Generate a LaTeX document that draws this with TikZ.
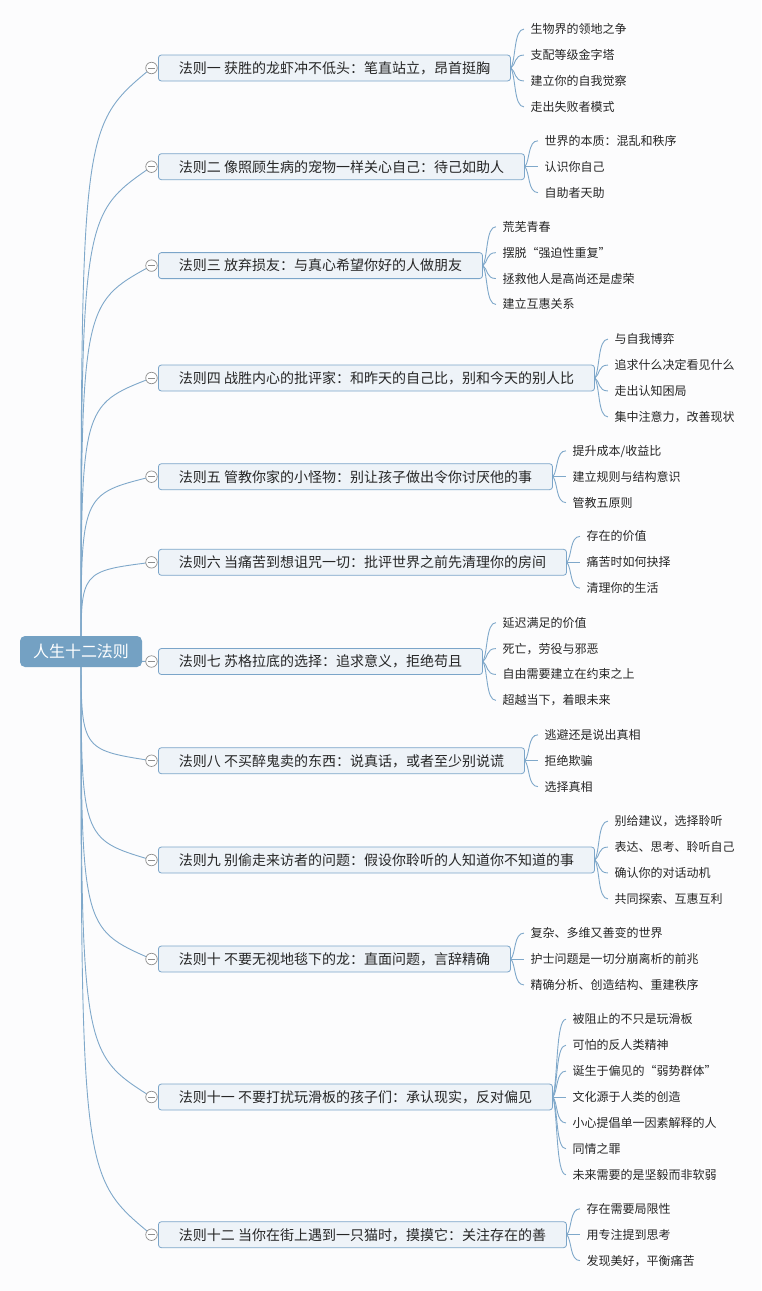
\documentclass[tikz,border=0pt]{standalone}
\usepackage{fontspec}
\setmainfont{Noto Sans CJK SC}
\usetikzlibrary{calc}
\definecolor{bgc}{HTML}{FCFCFD}
\definecolor{linec}{HTML}{7FA8CA}
\definecolor{boxfill}{HTML}{EEF3F8}
\definecolor{boxdraw}{HTML}{7BA5C9}
\definecolor{rootfill}{HTML}{74A1C3}
\definecolor{txt}{HTML}{262626}
\definecolor{circ}{HTML}{8E8E8E}
\pgfdeclarelayer{bgl}
\pgfdeclarelayer{lines}
\pgfsetlayers{bgl,lines,main}
\newcommand\mkbranch[5]{%
  \node[collapse] (#1c) at (151.5,-#2) {};
  \node[branchbox, anchor=west] (#1) at (158,-#2) {#4};
  \pgfmathsetmacro\cy{-(#2+0.1*(651.5-#2))}
  \begin{pgfonlayer}{lines}
    \draw[conn] (root.center) .. controls (81,\cy) .. (#1c.center);
  \end{pgfonlayer}
  \foreach \lt [count=\i] in {#5} {
    \pgfmathsetmacro\dy{-((\i-(#3+1)/2)*25.9)}
    \node[leafbox, anchor=west] (#1l\i) at ($(#1.east)+(13,\dy)$) {\lt};
    \draw[conn] (#1.east) .. controls ($(#1.east)+(5,0.25*\dy)$) and ($(#1.east)+(3,\dy)$) .. (#1l\i.west);
  }
}
\begin{document}
\begin{tikzpicture}[x=1pt,y=1pt,
  conn/.style={draw=linec, line width=0.9pt},
  rootbox/.style={fill=rootfill, rounded corners=5pt, text=white, font=\fontsize{16}{18}\selectfont, minimum width=122pt, minimum height=31pt, inner sep=0pt, text height=14pt, text depth=2pt},
  branchbox/.style={draw=boxdraw, fill=boxfill, rounded corners=3pt, text=txt, font=\fontsize{14}{16}\selectfont, minimum height=26pt, inner xsep=20.5pt, inner ysep=0pt, line width=0.8pt, text height=12.3pt, text depth=1.7pt},
  leafbox/.style={text=txt, font=\fontsize{12}{14}\selectfont, inner xsep=6.5pt, inner ysep=1pt, text height=10.5pt, text depth=1.5pt},
  collapse/.style={circle, draw=circ, fill=white, minimum size=11.5pt, inner sep=0pt, line width=0.7pt,
    path picture={\draw[circ, line width=0.8pt] ($(path picture bounding box.center)+(-3.5,0)$) -- ($(path picture bounding box.center)+(3.5,0)$);}}
]
\begin{pgfonlayer}{bgl}
\fill[bgc] (0,0) rectangle (761,-1291);
\end{pgfonlayer}
\useasboundingbox (0,0) rectangle (761,-1291);
\node[rootbox] (root) at (81,-651.5) {人生十二法则};

\mkbranch{b1}{68}{4}{法则一 获胜的龙虾冲不低头：笔直站立，昂首挺胸}{生物界的领地之争,支配等级金字塔,建立你的自我觉察,走出失败者模式}
\mkbranch{b2}{166.7}{3}{法则二 像照顾生病的宠物一样关心自己：待己如助人}{世界的本质：混乱和秩序,认识你自己,自助者天助}
\mkbranch{b3}{265.6}{4}{法则三 放弃损友：与真心希望你好的人做朋友}{荒芜青春,摆脱“强迫性重复”,拯救他人是高尚还是虚荣,建立互惠关系}
\mkbranch{b4}{378}{4}{法则四 战胜内心的批评家：和昨天的自己比，别和今天的别人比}{与自我博弈,追求什么决定看见什么,走出认知困局,集中注意力，改善现状}
\mkbranch{b5}{476.7}{3}{法则五 管教你家的小怪物：别让孩子做出令你讨厌他的事}{提升成本/收益比,建立规则与结构意识,管教五原则}
\mkbranch{b6}{562.3}{3}{法则六 当痛苦到想诅咒一切：批评世界之前先清理你的房间}{存在的价值,痛苦时如何抉择,清理你的生活}
\mkbranch{b7}{661.5}{4}{法则七 苏格拉底的选择：追求意义，拒绝苟且}{延迟满足的价值,死亡，劳役与邪恶,自由需要建立在约束之上,超越当下，着眼未来}
\mkbranch{b8}{760.7}{3}{法则八 不买醉鬼卖的东西：说真话，或者至少别说谎}{逃避还是说出真相,拒绝欺骗,选择真相}
\mkbranch{b9}{860}{4}{法则九 别偷走来访者的问题：假设你聆听的人知道你不知道的事}{别给建议，选择聆听,表达、思考、聆听自己,确认你的对话动机,共同探索、互惠互利}
\mkbranch{b10}{959}{3}{法则十 不要无视地毯下的龙：直面问题，言辞精确}{复杂、多维又善变的世界,护士问题是一切分崩离析的前兆,精确分析、创造结构、重建秩序}
\mkbranch{b11}{1097}{7}{法则十一 不要打扰玩滑板的孩子们：承认现实，反对偏见}{被阻止的不只是玩滑板,可怕的反人类精神,诞生于偏见的“弱势群体”,文化源于人类的创造,小心提倡单一因素解释的人,同情之罪,未来需要的是坚毅而非软弱}
\mkbranch{b12}{1234.7}{3}{法则十二 当你在街上遇到一只猫时，摸摸它：关注存在的善}{存在需要局限性,用专注提到思考,发现美好，平衡痛苦}
\end{tikzpicture}
\end{document}
